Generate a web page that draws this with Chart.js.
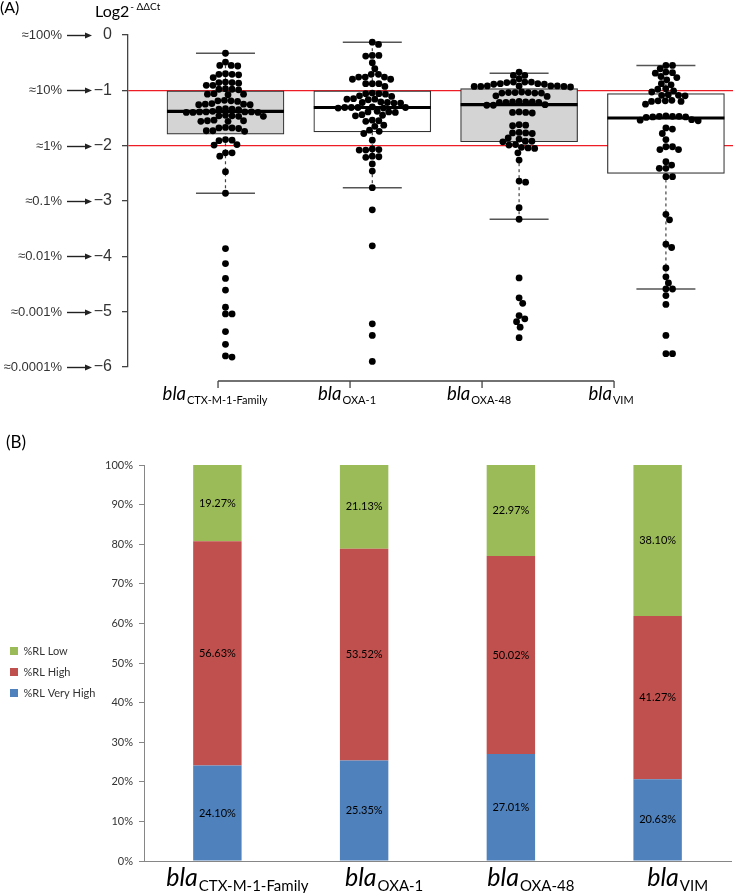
<!DOCTYPE html>
<html>
<head>
<meta charset="utf-8">
<script src="https://cdn.jsdelivr.net/npm/chart.js@4.4.0/dist/chart.umd.min.js"></script>
<style>
  html, body { margin: 0; padding: 0; background: #fff; }
  canvas { display: block; }
</style>
</head>
<body>
<canvas id="boxChart" width="733" height="420"></canvas>
<canvas id="barChart" width="733" height="473"></canvas>
<script>
// gene names (shown as "bla" + subscript)
const GENES = ['CTX-M-1-Family', 'OXA-1', 'OXA-48', 'VIM'];
const GENE_POS = [1, 2, 3, 4];

// Panel A - box plot summaries, Log2 -ΔΔCt
const WHISKER_HIGH = [-0.33, -0.13, -0.69, -0.55];
const BOX_Q3 = [-1.01, -1.01, -0.97, -1.06];
const BOX_MEDIAN = [-1.38, -1.31, -1.26, -1.50];
const BOX_Q1 = [-1.79, -1.75, -1.93, -2.50];
const WHISKER_LOW = [-2.86, -2.76, -3.33, -4.59];
const THRESHOLDS = [-1, -2];

const Y_TICKS = [0, -1, -2, -3, -4, -5, -6];
const Y_PERCENT_LABELS = ['≈100%', '≈10%', '≈1%', '≈0.1%', '≈0.01%', '≈0.001%', '≈0.0001%'];

// individual isolates (one dot each)
const CTX_VALUES = [
    -0.33, -0.49, -0.55, -0.55, -0.56, -0.70, -0.71, -0.71, -0.72, -0.77,
    -0.85, -0.86, -0.86, -0.87, -0.91, -0.91, -0.97, -0.98, -0.98, -0.99,
    -1.06, -1.07, -1.07, -1.08, -1.18, -1.19, -1.19, -1.20, -1.24, -1.25,
    -1.25, -1.26, -1.26, -1.33, -1.34, -1.34, -1.35, -1.38, -1.39, -1.39,
    -1.39, -1.39, -1.40, -1.40, -1.40, -1.45, -1.46, -1.46, -1.47, -1.47,
    -1.54, -1.55, -1.55, -1.56, -1.56, -1.67, -1.68, -1.68, -1.69, -1.73,
    -1.73, -1.74, -1.89, -1.90, -1.91, -1.98, -1.99,
    -2.13, -2.13, -2.19, -2.47, -2.86, -3.86, -4.13, -4.40, -4.61, -4.92,
    -5.04, -5.04, -5.36, -5.59, -5.80, -5.82
];
const OXA1_VALUES = [
    -0.13, -0.17, -0.37, -0.37, -0.38, -0.50, -0.61, -0.71, -0.71, -0.76,
    -0.76, -0.76, -0.80, -0.80, -0.88, -0.88, -0.88, -0.93,
    -1.05, -1.06, -1.06, -1.07, -1.10, -1.11, -1.15, -1.16, -1.16, -1.17,
    -1.21, -1.22, -1.22, -1.23, -1.23, -1.30, -1.31, -1.31, -1.31, -1.31,
    -1.32, -1.32, -1.38, -1.39, -1.39, -1.40, -1.44, -1.45, -1.46, -1.54,
    -1.55, -1.56, -1.63, -1.65, -1.72, -1.74, -1.78, -1.90,
    -2.06, -2.07, -2.08, -2.08, -2.19, -2.20, -2.21, -2.33, -2.46, -2.76,
    -3.16, -3.81, -5.22, -5.43, -5.90
];
const OXA48_VALUES = [
    -0.67, -0.73, -0.73, -0.79, -0.85, -0.85, -0.85, -0.86, -0.88, -0.88,
    -0.89, -0.89, -0.92, -0.92, -0.92, -0.92, -0.93, -0.93, -0.93, -0.94,
    -1.03, -1.04, -1.04, -1.04, -1.05, -1.05, -1.05, -1.10, -1.11, -1.20,
    -1.21, -1.21, -1.21, -1.22, -1.22, -1.22, -1.26, -1.27, -1.27, -1.39,
    -1.40, -1.40, -1.41, -1.62, -1.63, -1.64, -1.76, -1.77, -1.77, -1.78,
    -1.86, -1.88, -1.92, -1.92, -1.93, -1.98, -1.99,
    -2.03, -2.04, -2.05, -2.13, -2.26, -2.64, -2.66, -3.12, -3.33, -4.39,
    -4.75, -4.85, -5.07, -5.13, -5.18, -5.28, -5.47
];
const VIM_VALUES = [
    -0.55, -0.55, -0.61, -0.67, -0.68, -0.69, -0.75, -0.77, -0.81, -0.88,
    -0.90, -0.97, -0.98,
    -1.01, -1.03, -1.08, -1.09, -1.09, -1.10, -1.18, -1.19, -1.19, -1.20,
    -1.20, -1.25, -1.46, -1.47, -1.47, -1.47, -1.48, -1.48, -1.49, -1.53,
    -1.54, -1.55, -1.68, -1.70, -1.78, -1.89,
    -2.02, -2.02, -2.07, -2.07, -2.29, -2.35, -2.41, -2.41, -2.56, -2.56,
    -3.24, -3.34, -3.78, -3.84, -4.21, -4.37, -4.48, -4.59, -4.59, -4.71,
    -4.87, -5.43, -5.76, -5.76
];
const SAMPLES = [CTX_VALUES, OXA1_VALUES, OXA48_VALUES, VIM_VALUES];

// Panel B - relative load categories (%)
const RL_VERY_HIGH = [24.10, 25.35, 27.01, 20.63];
const RL_HIGH = [56.63, 53.52, 50.02, 41.27];
const RL_LOW = [19.27, 21.13, 22.97, 38.10];

const BOX_FILLS = ['#d4d4d4', '#ffffff', '#d4d4d4', '#ffffff'];
const DOT_RADIUS = 3.4;
const DOT_SPACING = 6.6;

Chart.defaults.font.family = 'Lato, sans-serif';

/**
 * Beeswarm placement: pixel x offsets so that dots do not overlap
 */
function swarmOffsets(values, yScale, d) {
    const order = values.map((v, i) => i).sort((a, b) => values[b] - values[a]);
    const placed = [];
    const offsets = new Array(values.length);
    order.forEach(i => {
        const py = yScale.getPixelForValue(values[i]);
        const near = placed.filter(p => Math.abs(p.y - py) < d);
        const cands = [0];
        near.forEach(p => {
            const dx = Math.sqrt(d * d - (p.y - py) * (p.y - py));
            cands.push(p.x + dx, p.x - dx);
        });
        cands.sort((a, b) => Math.abs(a) - Math.abs(b));
        const x = cands.find(c => near.every(p => Math.hypot(p.x - c, p.y - py) >= d - 0.01));
        placed.push({ x: x, y: py });
        offsets[i] = x;
    });
    return offsets;
}

/**
 * "bla" in italics followed by the subscript gene name
 */
function drawGeneLabel(ctx, sub, cx, base, size, subSize, subDrop) {
    const mainFont = `italic ${size}px Lato`;
    const subFont = `${subSize}px Lato`;
    ctx.font = mainFont;
    const w1 = ctx.measureText('bla').width;
    ctx.font = subFont;
    const w2 = ctx.measureText(sub).width;
    const x = cx - (w1 + w2 + 1) / 2;
    ctx.fillStyle = '#000';
    ctx.textAlign = 'left';
    ctx.textBaseline = 'alphabetic';
    ctx.font = mainFont;
    ctx.fillText('bla', x, base);
    ctx.font = subFont;
    ctx.fillText(sub, x + w1 + 1, base + subDrop);
}

const panelAPlugin = {
    id: 'panelA',
    afterDraw(chart) {
        const { ctx, chartArea } = chart;
        const y = chart.scales.y;
        const xLab = chart.scales.xLab;
        ctx.save();

        // detached category axis
        const axisY = chartArea.bottom + 14;
        const xa = xLab.getPixelForValue(GENE_POS[0]);
        const xb = xLab.getPixelForValue(GENE_POS[GENE_POS.length - 1]);
        ctx.strokeStyle = '#444';
        ctx.lineWidth = 1.3;
        ctx.beginPath();
        ctx.moveTo(xa, axisY);
        ctx.lineTo(xb, axisY);
        GENE_POS.forEach(p => {
            const x = xLab.getPixelForValue(p);
            ctx.moveTo(x, axisY);
            ctx.lineTo(x, axisY + 7);
        });
        ctx.stroke();
        GENE_POS.forEach((p, i) => drawGeneLabel(ctx, GENES[i], xLab.getPixelForValue(p) - 3, axisY + 19, 18.5, 11, 4));

        // percentage equivalents with arrows
        ctx.font = '13px "Liberation Sans"';
        ctx.textAlign = 'right';
        ctx.textBaseline = 'middle';
        Y_TICKS.forEach((v, i) => {
            const py = Math.round(y.getPixelForValue(v)) + 0.5;
            ctx.fillStyle = '#333';
            ctx.fillText(Y_PERCENT_LABELS[i], 62, py);
            ctx.strokeStyle = '#222';
            ctx.lineWidth = 1.4;
            ctx.beginPath();
            ctx.moveTo(67, py);
            ctx.lineTo(86, py);
            ctx.stroke();
            ctx.fillStyle = '#222';
            ctx.beginPath();
            ctx.moveTo(92, py);
            ctx.lineTo(85, py - 3);
            ctx.lineTo(85, py + 3);
            ctx.closePath();
            ctx.fill();
        });

        // panel letter and axis title
        ctx.fillStyle = '#000';
        ctx.textAlign = 'left';
        ctx.textBaseline = 'alphabetic';
        ctx.font = '16px Lato';
        ctx.fillText('(A)', 0, 13);
        ctx.font = '16px Lato';
        ctx.fillText('Log2', 95, 17);
        const w = ctx.measureText('Log2').width;
        ctx.font = '10px Lato';
        ctx.fillText('- ΔΔCt', 95 + w + 1, 10);
        ctx.restore();
    }
};

const whiskerDatasets = GENE_POS.map((p, i) => ({
    type: 'line',
    data: [{ x: p, y: WHISKER_HIGH[i] }, { x: p, y: WHISKER_LOW[i] }],
    borderColor: '#444',
    borderWidth: 1.2,
    borderDash: [3, 3],
    pointRadius: 0,
    order: 6,
}));

const boxDataset = {
    type: 'bar',
    data: GENE_POS.map((p, i) => ({ x: p, y: [BOX_Q1[i], BOX_Q3[i]] })),
    backgroundColor: BOX_FILLS,
    borderColor: '#333',
    borderWidth: 1.2,
    borderSkipped: false,
    barThickness: 117,
    grouped: false,
    order: 5,
};

const medianDataset = {
    type: 'scatter',
    data: GENE_POS.map((p, i) => ({ x: p, y: BOX_MEDIAN[i] })),
    pointStyle: 'line',
    pointRadius: 58.5,
    pointBorderWidth: 3.2,
    pointBorderColor: '#000',
    order: 4,
};

const capDataset = {
    type: 'scatter',
    data: GENE_POS.flatMap((p, i) => [{ x: p, y: WHISKER_HIGH[i] }, { x: p, y: WHISKER_LOW[i] }]),
    pointStyle: 'line',
    pointRadius: 29.5,
    pointBorderWidth: 1.5,
    pointBorderColor: '#555',
    order: 4,
};

const dotDatasets = SAMPLES.map((vals, g) => ({
    type: 'scatter',
    data: vals.map(v => ({ x: GENE_POS[g], y: v })),
    pointRadius: DOT_RADIUS,
    pointBackgroundColor: '#000',
    pointBorderWidth: 0,
    order: 1,
}));

const boxChart = new Chart(document.getElementById('boxChart'), {
    type: 'scatter',
    data: {
        datasets: [...whiskerDatasets, boxDataset, medianDataset, capDataset, ...dotDatasets]
    },
    options: {
        responsive: false,
        animation: false,
        layout: { autoPadding: false, padding: { top: 35, right: 0, bottom: 53, left: 0 } },
        scales: {
            x: { type: 'linear', min: 0.336, max: 4.457, offset: false, display: false },
            xLab: { type: 'linear', axis: 'x', position: 'bottom', min: 0.318, max: 4.901, display: false },
            y: {
                min: -6,
                max: 0,
                z: 1,
                afterFit: s => { s.width = 128; },
                ticks: {
                    stepSize: 1,
                    padding: 10,
                    color: '#333',
                    font: { family: '"Liberation Sans"', size: 16 },
                    callback: v => v === 0 ? '0' : '\u2212' + Math.abs(v)
                },
                grid: {
                    color: c => THRESHOLDS.includes(c.tick && c.tick.value) ? '#ee1c25' : 'rgba(0,0,0,0)',
                    lineWidth: 1.3,
                    tickLength: 6,
                    tickColor: '#444',
                    tickWidth: 1.3,
                },
                border: { color: '#444', width: 1.3 }
            }
        },
        plugins: {
            legend: { display: false },
            tooltip: { enabled: false }
        }
    },
    plugins: [panelAPlugin]
});

// beeswarm layout once the scales exist
const xs = boxChart.scales.x;
const ys = boxChart.scales.y;
SAMPLES.forEach((vals, g) => {
    const offs = swarmOffsets(vals, ys, DOT_SPACING);
    const cx = xs.getPixelForValue(GENE_POS[g]);
    dotDatasets[g].data = vals.map((v, i) => ({ x: xs.getValueForPixel(cx + offs[i]), y: v }));
});
boxChart.update('none');

// ---------- Panel B ----------
const legendWidthPlugin = {
    id: 'legendWidth',
    beforeInit(chart) {
        const fit = chart.legend.fit;
        chart.legend.fit = function () {
            fit.bind(chart.legend)();
            this.width = 100;
        };
    }
};

const panelBPlugin = {
    id: 'panelB',
    afterDatasetsDraw(chart) {
        const { ctx } = chart;
        ctx.save();
        ctx.font = '11px Lato';
        ctx.fillStyle = '#000';
        ctx.textAlign = 'center';
        ctx.textBaseline = 'middle';
        chart.data.datasets.forEach((ds, di) => {
            chart.getDatasetMeta(di).data.forEach((bar, i) => {
                ctx.fillText(ds.data[i].toFixed(2) + '%', bar.x, (bar.y + bar.base) / 2);
            });
        });
        ctx.restore();
    },
    afterDraw(chart) {
        const { ctx, chartArea } = chart;
        const x = chart.scales.x;
        ctx.save();
        GENES.forEach((g, i) => drawGeneLabel(ctx, g, x.getPixelForValue(i) + 20, chartArea.bottom + 25, 25, 15, 5));
        ctx.fillStyle = '#000';
        ctx.textAlign = 'left';
        ctx.textBaseline = 'alphabetic';
        ctx.font = '17px Lato';
        ctx.fillText('(B)', 6, 28);
        ctx.restore();
    }
};

new Chart(document.getElementById('barChart'), {
    type: 'bar',
    data: {
        labels: GENES,
        datasets: [
            { label: '%RL Very High', data: RL_VERY_HIGH, backgroundColor: '#4f81bd' },
            { label: '%RL High', data: RL_HIGH, backgroundColor: '#c0504d' },
            { label: '%RL Low', data: RL_LOW, backgroundColor: '#9bbb59' },
        ]
    },
    options: {
        responsive: false,
        animation: false,
        layout: { padding: { top: 45, right: 2, bottom: 14, left: 0 } },
        datasets: { bar: { categoryPercentage: 1, barPercentage: 0.33 } },
        scales: {
            x: {
                stacked: true,
                afterFit: s => { s.height = 18; },
                ticks: { display: false },
                grid: { display: false },
                border: { color: '#868686' }
            },
            y: {
                stacked: true,
                min: 0,
                max: 100,
                afterFit: s => { s.width = 44; },
                ticks: {
                    stepSize: 10,
                    padding: 6,
                    color: '#333',
                    font: { size: 11 },
                    callback: v => v + '%'
                },
                grid: { drawOnChartArea: false, tickLength: 5, tickColor: '#868686' },
                border: { color: '#868686' }
            }
        },
        plugins: {
            legend: {
                position: 'left',
                reverse: true,
                labels: { boxWidth: 8, boxHeight: 8, padding: 10, color: '#333', font: { size: 11 } }
            },
            tooltip: { enabled: false }
        }
    },
    plugins: [legendWidthPlugin, panelBPlugin]
});
</script>
</body>
</html>
